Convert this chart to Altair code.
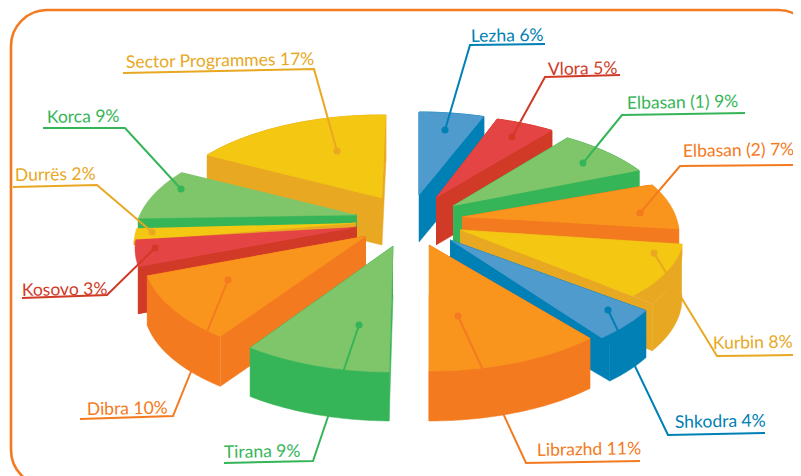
import math
import altair as alt
import pandas as pd

# --- content ---
names = ["Lezha 6%", "Vlora 5%", "Elbasan (1)  9%", "Elbasan (2)  7%", "Kurbin 8%", "Shkodra 4%",
         "Librazhd 11%", "Tirana 9%", "Dibra 10%", "Kosovo 3%", "Durrës 2%", "Korca 9%",
         "Sector Programmes 17%"]
shares = [6, 5, 9, 7, 8, 4, 11, 9, 10, 3, 2, 9, 17]
# drawn rim extent of each slice, degrees clockwise from the top of the ellipse
angle_from = [0, 16, 31, 59, 86, 118, 133.5, 181, 221, 260, 272, 280, 308]
angle_to = [17, 31.5, 57, 85, 120, 137, 180, 220, 260, 275, 279, 308, 361]
# extent of the visible outer wall under that rim
wall_from = [0, 16, 31, 59, 86, 118, 133.5, 181, 221, 260, 272, 280, 308]
wall_to = [17, 31.5, 57, 85, 120, 134, 180, 220, 260, 260, 272, 280, 361]
# top-face rim radius factor at each end of the slice
rim_from = [1, 1, 1, 1, 1.005, 1, 1, 1, 1, 1, 1, 1, 1]
rim_to = [1, 1, 1, 0.98, 0.896, 1, 1, 1, 1, 1, 1, 1, 1]
# wall radius factor and wall height of each slice
wall_k = [1, 1, 1, 0.98, 1, 1, 1, 1, 1, 1, 1, 1, 1]
depths = [47, 47, 47, 47, 47, 47, 50, 49, 50, 47, 4, 12, 47]

tops = ["#4f9bce", "#e54445", "#7fc56a", "#f9951d", "#f4c712", "#4f9bce", "#f9951d",
        "#7fc56a", "#f9951d", "#e54445", "#f4c712", "#7fc56a", "#f4c712"]
walls = ["#0080b4", "#d13a26", "#36b558", "#f47a20", "#e8a822", "#0080b4", "#f47a20",
         "#36b558", "#f47a20", "#d13a26", "#e8a822", "#36b558", "#e8a822"]

# --- layout: where each exploded slice sits and where its label goes ---
apex_x = [419, 436, 453, 462, 460, 450, 429, 393, 366, 357, 356, 357, 382]
apex_y = [195, 198, 206, 217, 230, 240, 245, 246, 236, 227, 223, 215, 198]
AXIS_X, AXIS_Y, SHIFT_Y = 222, 104.5, 21.5
paint_order = [0, 1, 2, 3, 4, 5, 6, 12, 11, 10, 9, 8, 7]

label_x = [471, 548, 627, 683, 713, 675, 537, 224, 87, 22, 15, 47, 126]
label_y = [42, 75, 109, 157, 349, 428, 456, 458, 415, 296, 181, 123, 68]
line_a_x = [470, 545, 622, 680, 717, 668, 526, 224, 80, 22, 13, 43, 123]
line_a_y = [45, 77, 115, 166, 356, 435, 463, 463, 419, 298, 187, 128, 73]
line_b_x = [545, 620, 745, 795, 798, 765, 640, 313, 173, 107, 97, 125, 314]
line_b_y = [44, 75, 113, 165, 355, 433, 461, 461, 416, 295, 185, 128, 69]
elbow_is_a = [True, True, True, True, True, True, True, False, False, False, False, False, False]
dot_x = [445, 512, 583, 640, 654, 608, 458, 359, 228, 155, 152, 181, 337]
dot_y = [130, 137, 163, 213, 253, 310, 316, 325, 280, 248, 232, 189, 151]


def rim_point(i, phi, k):
    a = math.radians(phi)
    return (apex_x[i] + k * AXIS_X * math.sin(a),
            apex_y[i] + k * (SHIFT_Y - AXIS_Y * math.cos(a)))


def arc_points(i, a0, a1, k0, k1):
    steps = max(2, int(abs(a1 - a0)) + 1)
    return [rim_point(i, a0 + (s / steps) * (a1 - a0), k0 + (s / steps) * (k1 - k0))
            for s in range(steps + 1)]


rows = []
poly = 0


def add(points, color):
    global poly
    for n, (px, py) in enumerate(points):
        rows.append({"poly": poly, "n": n, "x": px, "y": py, "c": color})
    poly += 1


for i in paint_order:
    top_arc = arc_points(i, angle_from[i], angle_to[i], rim_from[i], rim_to[i])
    wall_arc = arc_points(i, wall_from[i], wall_to[i], wall_k[i], wall_k[i])
    apex = (apex_x[i], apex_y[i])

    def low(p, d=depths[i]):
        return (p[0], p[1] + d)

    add([apex, wall_arc[0], low(wall_arc[0]), low(apex)], walls[i])
    add([apex, wall_arc[-1], low(wall_arc[-1]), low(apex)], walls[i])
    add(wall_arc + [low(p) for p in reversed(wall_arc)], walls[i])
    add([apex] + wall_arc, walls[i])
    add([apex] + top_arc, tops[i])

polys = pd.DataFrame(rows)

leader_rows = []
for i in range(len(names)):
    a = (line_a_x[i], line_a_y[i])
    b = (line_b_x[i], line_b_y[i])
    path = [(dot_x[i], dot_y[i]), a, b] if elbow_is_a[i] else [(dot_x[i], dot_y[i]), b, a]
    for n, (px, py) in enumerate(path):
        leader_rows.append({"id": i, "n": n, "x": px, "y": py, "c": walls[i]})
leaders = pd.DataFrame(leader_rows)

labels = pd.DataFrame({"t": names, "share": shares, "x": label_x, "y": label_y, "c": walls,
                       "dx": dot_x, "dy": dot_y})

XS = alt.Scale(domain=[8, 793], nice=False, zero=False)
YS = alt.Scale(domain=[476, 8], nice=False, zero=False)
X = alt.X("x:Q", scale=XS, axis=None)
Y = alt.Y("y:Q", scale=YS, axis=None)

frame = alt.Chart(pd.DataFrame({"x": [11], "x2": [814], "y": [10], "y2": [486]})).mark_rect(
    filled=False, stroke="#f47a20", strokeWidth=2.6, cornerRadius=36
).encode(X, alt.X2("x2:Q"), Y, alt.Y2("y2:Q"))

faces = alt.Chart(polys).mark_line(strokeWidth=0.5, interpolate="linear").encode(
    X, Y,
    detail="poly:N",
    order="n:Q",
    fill=alt.Fill("c:N", scale=None),
    stroke=alt.Stroke("c:N", scale=None),
)

lines = alt.Chart(leaders).mark_line(strokeWidth=2).encode(
    X, Y, detail="id:N", order="n:Q", stroke=alt.Stroke("c:N", scale=None)
)

dots = alt.Chart(labels).mark_circle(size=50, opacity=1).encode(
    alt.X("dx:Q", scale=XS, axis=None),
    alt.Y("dy:Q", scale=YS, axis=None),
    color=alt.Color("c:N", scale=None),
)

text = alt.Chart(labels).mark_text(
    align="left", baseline="alphabetic", font="Lato", fontSize=17.5, angle=359
).encode(X, Y, text="t:N", color=alt.Color("c:N", scale=None))

chart = alt.layer(frame, faces, lines, dots, text).properties(
    width=785, height=468, padding=0,
    autosize=alt.AutoSizeParams(type="none"),
    background="white",
).configure_view(stroke=None)

chart.save("out.html", embed_options={"renderer": "svg", "actions": False})
